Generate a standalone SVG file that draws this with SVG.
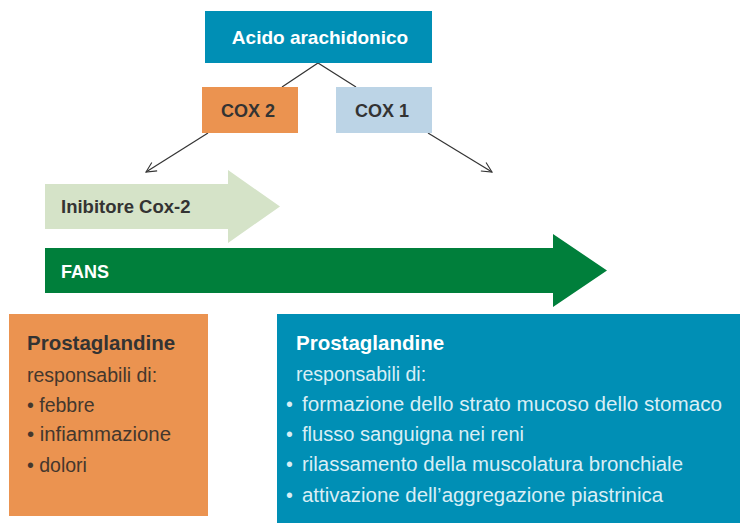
<svg xmlns="http://www.w3.org/2000/svg" width="740" height="525" viewBox="0 0 740 525">
<defs>
<marker id="vee" viewBox="0 0 12 12" refX="11" refY="6" markerWidth="12" markerHeight="12" markerUnits="userSpaceOnUse" orient="auto">
<path d="M1,1 L11,6 L1,11" fill="none" stroke="#333" stroke-width="1.1"/>
</marker>
<style>
.b{font-family:"Liberation Sans",Arial,sans-serif;font-weight:bold}
.r{font-family:"Liberation Sans",Arial,sans-serif}
.ln{stroke:#333;stroke-width:1.2;fill:none}
</style>
</defs>
<rect width="740" height="525" fill="#fff"/>
<g id="connectors">
<path class="ln" d="M282,87 L318,63 L356,87"/>
<path class="ln" d="M208,133 L146,172" marker-end="url(#vee)"/>
<path class="ln" d="M428,133 L492,172" marker-end="url(#vee)"/>
</g>
<g id="acido">
<rect x="205" y="11" width="227" height="52" fill="#008fb5"/>
<text class="b" x="320" y="44" font-size="19" fill="#fff" text-anchor="middle">Acido arachidonico</text>
</g>
<g id="cox2">
<rect x="202" y="87" width="96" height="46" fill="#eb9350"/>
<text class="b" x="248" y="117" font-size="18" fill="#333" text-anchor="middle">COX 2</text>
</g>
<g id="cox1">
<rect x="336" y="87" width="96" height="46" fill="#bcd4e6"/>
<text class="b" x="382" y="117" font-size="18" fill="#333" text-anchor="middle">COX 1</text>
</g>
<g id="inibitore">
<path d="M45,184 L228,184 L228,170 L280,206.5 L228,243 L228,229 L45,229 Z" fill="#d5e3c8"/>
<text class="b" x="61" y="213" font-size="18.5" fill="#333">Inibitore Cox-2</text>
</g>
<g id="fans">
<path d="M45,248 L553,248 L553,234 L607,270.5 L553,307 L553,293 L45,293 Z" fill="#007f3b"/>
<text class="b" x="61" y="278" font-size="18" fill="#fff">FANS</text>
</g>
<g id="prost-cox2">
<rect x="9" y="314" width="199" height="202" fill="#eb9350"/>
<text class="b" x="27" y="350" font-size="20.5" fill="#333">Prostaglandine</text>
<g class="r" font-size="19.5" fill="#44372d">
<text x="27" y="382">responsabili di:</text>
<text x="27" y="412">• febbre</text>
<text x="27" y="441" textLength="144" lengthAdjust="spacingAndGlyphs">• infiammazione</text>
<text x="27" y="472">• dolori</text>
</g>
</g>
<g id="prost-cox1">
<rect x="277" y="314" width="463" height="209" fill="#008fb5"/>
<text class="b" x="296" y="350" font-size="20.5" fill="#fff">Prostaglandine</text>
<g class="r" font-size="19.5" fill="#d9eef5">
<text x="296" y="381">responsabili di:</text>
<text x="286" y="411">•</text><text x="302" y="411" textLength="420" lengthAdjust="spacingAndGlyphs">formazione dello strato mucoso dello stomaco</text>
<text x="286" y="441">•</text><text x="302" y="441" textLength="222" lengthAdjust="spacingAndGlyphs">flusso sanguigna nei reni</text>
<text x="286" y="471">•</text><text x="302" y="471" textLength="381" lengthAdjust="spacingAndGlyphs">rilassamento della muscolatura bronchiale</text>
<text x="286" y="502">•</text><text x="302" y="502" textLength="361" lengthAdjust="spacingAndGlyphs">attivazione dell’aggregazione piastrinica</text>
</g>
</g>
</svg>
